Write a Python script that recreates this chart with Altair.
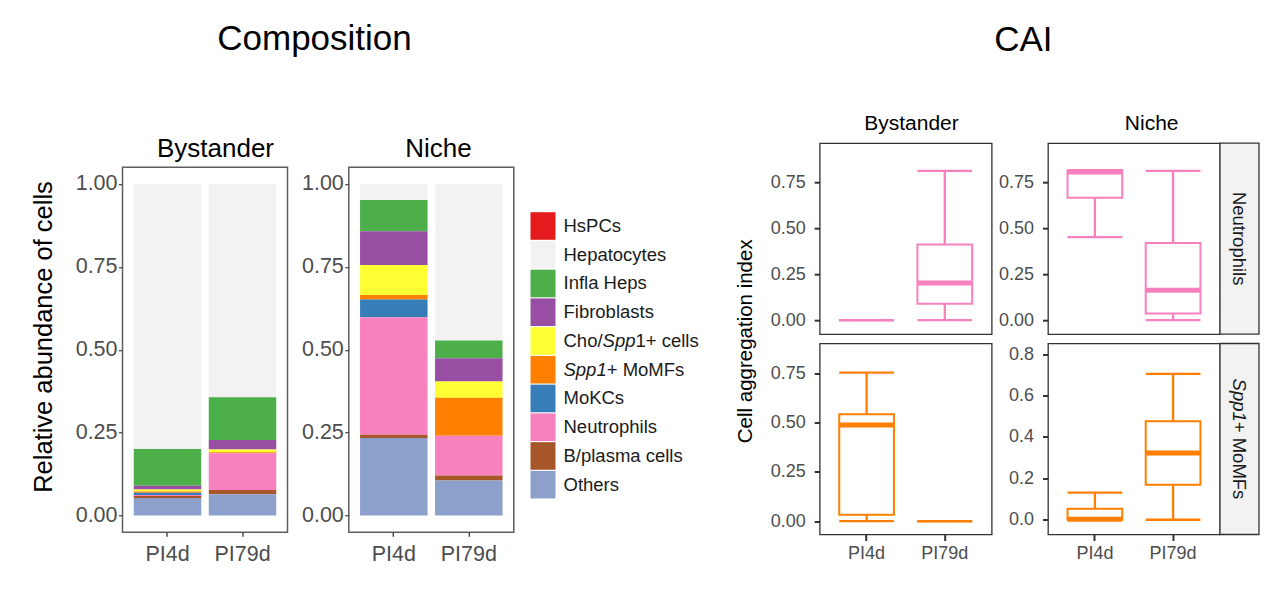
import altair as alt
import pandas as pd

FONT = "Liberation Sans"

# ---------------------------------------------------------------- data
TIMEPOINTS = ["PI4d", "PI79d"]

# Cell types, top of the stack first (legend order)
CELL_TYPES = ["HsPCs", "Hepatocytes", "Infla Heps", "Fibroblasts", "Cho/Spp1+ cells",
              "Spp1+ MoMFs", "MoKCs", "Neutrophils", "B/plasma cells", "Others"]
CELL_COLORS = ["#E41A1C", "#F2F2F2", "#4DAF4A", "#984EA3", "#FFFF33",
               "#FF7F00", "#377EB8", "#F781BF", "#A65628", "#8DA0CB"]

# Relative abundance of each cell type (CELL_TYPES order)
bystander_pi4d = [0.000, 0.799, 0.111, 0.011, 0.006, 0.004, 0.007, 0.003, 0.006, 0.053]
bystander_pi79d = [0.000, 0.643, 0.129, 0.029, 0.008, 0.003, 0.000, 0.111, 0.013, 0.064]
niche_pi4d = [0.000, 0.049, 0.094, 0.102, 0.090, 0.014, 0.053, 0.354, 0.010, 0.234]
niche_pi79d = [0.000, 0.472, 0.054, 0.070, 0.049, 0.114, 0.000, 0.120, 0.015, 0.106]

# Cell aggregation index: lower whisker, Q1, median, Q3, upper whisker
CAI_STATS = ["lo", "q1", "med", "q3", "hi"]
neu_bystander_pi4d = [0.000, 0.000, 0.000, 0.000, 0.000]
neu_bystander_pi79d = [0.000, 0.090, 0.202, 0.412, 0.812]
neu_niche_pi4d = [0.452, 0.665, 0.805, 0.815, 0.815]
neu_niche_pi79d = [0.000, 0.036, 0.163, 0.419, 0.812]
spp_bystander_pi4d = [0.000, 0.032, 0.487, 0.542, 0.753]
spp_bystander_pi79d = [0.000, 0.000, 0.000, 0.000, 0.000]
spp_niche_pi4d = [0.000, 0.000, 0.003, 0.053, 0.131]
spp_niche_pi79d = [0.000, 0.169, 0.322, 0.476, 0.705]

NEUTRO_COLOR = "#F781BF"
SPP1_COLOR = "#FF7F00"

# Arial / Liberation Sans advance widths (1/1000 em) for the mixed-style labels
GLYPH_WIDTHS = {"C": 722, "h": 556, "o": 556, "/": 278, "S": 667, "p": 556, "1": 556,
                "+": 584, " ": 278, "c": 500, "e": 556, "l": 222, "s": 500, "M": 833,
                "F": 611, "N": 722, "u": 556, "t": 278, "r": 333, "i": 222}


def text_width(text, size):
    return sum(GLYPH_WIDTHS.get(ch, 556) for ch in text) * size / 1000.0


# label pieces rendered with an italic gene name
MIXED_LABELS = {
    "Cho/Spp1+ cells": [("Cho/", False), ("Spp", True), ("1+ cells", False)],
    "Spp1+ MoMFs": [("Spp1", True), ("+ MoMFs", False)],
}

AXIS_GREY = "#4D4D4D"
DARK = "#333333"
INK = "#1A1A1A"
ONE_ROW = alt.InlineData(values=[{"row": 1}])


def label(text, x, y, size, angle=0, align="center", baseline="alphabetic", style="normal",
          color="black"):
    """Free-standing text placed relative to a panel's plotting area."""
    return alt.Chart(ONE_ROW).mark_text(
        text=text, fontSize=size, angle=angle, align=align, baseline=baseline,
        fontStyle=style, color=color,
    ).encode(x=alt.value(x), y=alt.value(y))


def anchor_point(x, y):
    """Invisible tick that reserves layout room around a panel."""
    return alt.Chart(ONE_ROW).mark_rule(opacity=0).encode(
        x=alt.value(x), y=alt.value(y), y2=alt.value(y + 1))


def blank(width, height):
    """Empty cell used to drop the composition row below the CAI grid."""
    return anchor_point(0, 0).properties(
        width=width, height=height, view=alt.ViewBackground(stroke="transparent"))


# ---------------------------------------------------------------- composition panels
COMP_W, COMP_H = 165, 365
COMP_GAP = 61.3
LEGEND_W = 137.4
COMP_DROP = 24
cell_scale = alt.Scale(domain=CELL_TYPES, range=CELL_COLORS)


def composition_frame(series):
    rows = []
    for tp, values in zip(TIMEPOINTS, series):
        for rank, (cell, v) in enumerate(zip(CELL_TYPES, values)):
            if v > 0:
                rows.append({"timepoint": tp, "cell": cell, "fraction": v,
                             "stack": len(CELL_TYPES) - rank})
    return pd.DataFrame(rows)


def composition_bars(series):
    return alt.Chart(composition_frame(series)).mark_bar().encode(
        x=alt.X("timepoint:N",
                scale=alt.Scale(domain=TIMEPOINTS, paddingInner=0.1, paddingOuter=0.15),
                axis=alt.Axis(title=None, labelAngle=0, labelFontSize=21.5, labelColor=AXIS_GREY,
                              tickColor=DARK, tickSize=4, tickWidth=1.3, labelPadding=7,
                              domain=False, grid=False)),
        y=alt.Y("fraction:Q", stack="zero",
                scale=alt.Scale(domain=[-0.05, 1.05], nice=False, zero=False),
                axis=alt.Axis(values=[0, 0.25, 0.5, 0.75, 1.0], format=".2f", labelFontSize=21.5,
                              labelColor=AXIS_GREY, tickColor=AXIS_GREY, tickSize=4,
                              tickWidth=1.3, labelPadding=1.5, domain=False, grid=False,
                              title=None)),
        color=alt.Color("cell:N", scale=cell_scale, legend=None),
        order=alt.Order("stack:Q", sort="ascending"),
    )


comp_frame_style = alt.ViewBackground(stroke="#5E5E5E", strokeWidth=1.5)

comp_bystander = alt.layer(
    composition_bars([bystander_pi4d, bystander_pi79d]),
    label("Composition", 192, -117.2, 35),
    label("Bystander", 93, -10, 26),
    label("Relative abundance of cells", -70.3, 169.8, 25.5, angle=270),
    anchor_point(-100, -160),
).properties(width=COMP_W, height=COMP_H, view=comp_frame_style)

comp_niche = alt.layer(
    composition_bars([niche_pi4d, niche_pi79d]),
    label("Niche", 89.7, -10, 26),
).properties(width=COMP_W, height=COMP_H, view=comp_frame_style)

# ---------------------------------------------------------------- legend
LEG_SIZE = 18.5
SW_X = -44.6
LABEL_X = SW_X + 33
legend_df = pd.DataFrame({"cell": CELL_TYPES})
legend_y = alt.Y("cell:N", axis=None,
                 scale=alt.Scale(domain=CELL_TYPES, range=[45, 331.3], paddingInner=0.04,
                                 paddingOuter=0))
legend_base = alt.Chart(legend_df)
legend_layers = [
    legend_base.mark_rect().encode(
        y=legend_y, x=alt.value(SW_X), x2=alt.value(SW_X + 25),
        color=alt.Color("cell:N", scale=cell_scale, legend=None)),
    legend_base.transform_filter(
        alt.FieldOneOfPredicate(field="cell",
                                oneOf=[c for c in CELL_TYPES if c not in MIXED_LABELS])
    ).mark_text(align="left", baseline="middle", fontSize=LEG_SIZE, color=INK).encode(
        y=legend_y, x=alt.value(LABEL_X), text="cell:N"),
]
for cell, pieces in MIXED_LABELS.items():
    offset = 0.0
    for piece, italic in pieces:
        legend_layers.append(
            legend_base.transform_filter(alt.FieldEqualPredicate(field="cell", equal=cell))
            .mark_text(text=piece, align="left", baseline="middle", fontSize=LEG_SIZE,
                       fontStyle="italic" if italic else "normal", color=INK, dx=offset)
            .encode(y=legend_y, x=alt.value(LABEL_X))
        )
        offset += text_width(piece, LEG_SIZE)

legend = alt.layer(*legend_layers).properties(
    width=LEGEND_W, height=COMP_H, view=alt.ViewBackground(stroke="transparent"))

left_block = alt.concat(
    blank(COMP_W, COMP_DROP), blank(COMP_W, COMP_DROP), blank(LEGEND_W, COMP_DROP),
    comp_bystander, comp_niche, legend,
    columns=3, spacing={"row": 0, "column": COMP_GAP}, bounds="flush",
)

# ---------------------------------------------------------------- CAI panels
CAI_W, CAI_H = 172, 191
STRIP_W = 39
STRIP_SIZE = 18.5
BOX_PX = 0.7 * CAI_W / 2.2


def cai_frame(pi4d, pi79d):
    return pd.DataFrame([dict(timepoint=tp, **dict(zip(CAI_STATS, vals)))
                         for tp, vals in zip(TIMEPOINTS, [pi4d, pi79d])])


def strip_layers(pieces):
    layers = [alt.Chart(ONE_ROW).mark_rect(fill="#F2F2F2", stroke=DARK, strokeWidth=1.3).encode(
        x=alt.value(CAI_W), x2=alt.value(CAI_W + STRIP_W), y=alt.value(0), y2=alt.value(CAI_H))]
    total = sum(text_width(p, STRIP_SIZE) for p, _ in pieces)
    pos = CAI_H / 2 - total / 2
    for piece, italic in pieces:
        layers.append(label(piece, CAI_W + STRIP_W / 2, pos, STRIP_SIZE, angle=90, align="left",
                            baseline="middle", style="italic" if italic else "normal", color=INK))
        pos += text_width(piece, STRIP_SIZE)
    return layers


def cai_panel(df, color, domain, ticks, fmt, show_x=False, extra=()):
    y_axis = alt.Axis(values=ticks, format=fmt, labelFontSize=18, labelColor=AXIS_GREY,
                      tickColor=DARK, tickWidth=2, tickSize=5.5, labelPadding=9,
                      domain=False, grid=False, title=None)
    y_scale = alt.Scale(domain=domain, nice=False, zero=False)
    if show_x:
        x_axis = alt.Axis(title=None, labelAngle=0, labelFontSize=18, labelColor=AXIS_GREY,
                          tickColor=DARK, tickWidth=2, tickSize=6, labelPadding=4,
                          domain=False, grid=False)
    else:
        x_axis = None
    x = alt.X("timepoint:N", scale=alt.Scale(domain=TIMEPOINTS, paddingInner=0, paddingOuter=0.1),
              axis=x_axis)

    def y(field):
        return alt.Y(f"{field}:Q", scale=y_scale, axis=y_axis)

    base = alt.Chart(df)
    layers = [
        base.mark_rule(color=color, strokeWidth=2.3).encode(x=x, y=y("lo"), y2="q1"),
        base.mark_rule(color=color, strokeWidth=2.3).encode(x=x, y=y("q3"), y2="hi"),
        base.mark_bar(width=alt.RelativeBandSize(0.7), fill="white", stroke=color,
                      strokeWidth=2).encode(x=x, y=y("q1"), y2="q3"),
        base.transform_filter("datum.q3 > datum.q1").mark_tick(
            size=BOX_PX, thickness=5, color=color, opacity=1).encode(x=x, y=y("med")),
        base.mark_tick(size=BOX_PX, thickness=2.3, color=color, opacity=1).encode(x=x, y=y("lo")),
        base.mark_tick(size=BOX_PX, thickness=2.3, color=color, opacity=1).encode(x=x, y=y("hi")),
    ]
    layers += list(extra)
    return alt.layer(*layers).properties(
        width=CAI_W, height=CAI_H, view=alt.ViewBackground(stroke=DARK, strokeWidth=1.3))


TOP_DOMAIN = [-0.076, 0.962]
QUARTER_TICKS = [0, 0.25, 0.5, 0.75]

neu_bystander = cai_panel(
    cai_frame(neu_bystander_pi4d, neu_bystander_pi79d), NEUTRO_COLOR,
    TOP_DOMAIN, QUARTER_TICKS, ".2f",
    extra=[label("Bystander", 91.8, -13.4, 21),
           label("Cell aggregation index", -67.7, 198.1, 20.5, angle=270),
           anchor_point(-100, -136)])
neu_niche = cai_panel(
    cai_frame(neu_niche_pi4d, neu_niche_pi79d), NEUTRO_COLOR,
    TOP_DOMAIN, QUARTER_TICKS, ".2f",
    extra=[label("CAI", -24.7, -92, 35), label("Niche", 103.7, -13.4, 21)]
    + strip_layers([("Neutrophils", False)]))
spp_bystander = cai_panel(
    cai_frame(spp_bystander_pi4d, spp_bystander_pi79d), SPP1_COLOR,
    [-0.0675, 0.9005], QUARTER_TICKS, ".2f", show_x=True)
spp_niche = cai_panel(
    cai_frame(spp_niche_pi4d, spp_niche_pi79d), SPP1_COLOR,
    [-0.0711, 0.8515], [0, 0.2, 0.4, 0.6, 0.8], ".1f", show_x=True,
    extra=strip_layers([("Spp1", True), ("+ MoMFs", False)]))

right_block = alt.concat(neu_bystander, neu_niche, spp_bystander, spp_niche, columns=2,
                         spacing={"row": 9.3, "column": 56.3}, bounds="flush")

chart = alt.hconcat(left_block, right_block, spacing=5.2).properties(
    padding={"left": 21.5, "top": 6.2, "right": 5, "bottom": 5},
).configure(font=FONT).configure_view(stroke=DARK)

chart.save("out.html", embed_options={"renderer": "svg", "actions": False})
